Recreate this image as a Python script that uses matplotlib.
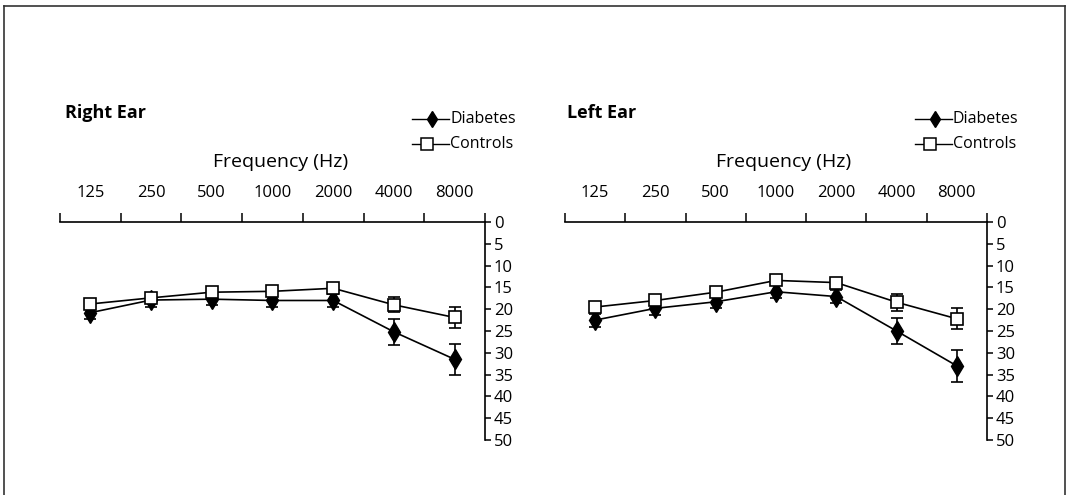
import matplotlib
matplotlib.use("Agg")
import matplotlib.pyplot as plt
from matplotlib.lines import Line2D
import numpy as np

plt.rcParams['font.family'] = ['Open Sans', 'DejaVu Sans']

frequencies = ["125", "250", "500", "1000", "2000", "4000", "8000"]
y_ticks = [0, 5, 10, 15, 20, 25, 30, 35, 40, 45, 50]

right_diabetes = [20.8, 17.9, 17.7, 18.0, 18.0, 25.2, 31.5]
right_diabetes_err = [1.5, 1.7, 1.4, 1.5, 1.5, 3.0, 3.6]
right_controls = [18.8, 17.4, 16.1, 15.9, 15.2, 19.0, 21.9]
right_controls_err = [1.0, 1.0, 1.0, 1.0, 1.0, 1.7, 2.3]

left_diabetes = [22.5, 19.8, 18.3, 16.0, 17.1, 25.0, 33.0]
left_diabetes_err = [1.5, 1.6, 1.5, 1.5, 1.5, 3.0, 3.7]
left_controls = [19.5, 18.0, 16.1, 13.4, 13.9, 18.4, 22.2]
left_controls_err = [1.0, 1.0, 1.0, 1.0, 1.0, 1.9, 2.4]

W, H = 1068, 495
fig = plt.figure(figsize=(W / 100, H / 100), dpi=100)

def fx(px):
    return px / W

def fy(py):
    return 1 - py / H

panels = [
    ("Right Ear", 60, 485, right_diabetes, right_diabetes_err, right_controls, right_controls_err, 65, 412),
    ("Left Ear", 565, 987, left_diabetes, left_diabetes_err, left_controls, left_controls_err, 567, 915),
]

y_top, y_bot = 222, 440

for (title, x0, x1, dia, dia_e, con, con_e, title_x, leg_x) in panels:
    ax = fig.add_axes([fx(x0), fy(y_bot), fx(x1 - x0), (y_bot - y_top) / H])
    xs = np.arange(len(frequencies)) + 0.5
    ax.errorbar(xs, dia, yerr=dia_e, color='black', marker='d', markersize=10,
                markerfacecolor='black', markeredgecolor='black', lw=1.2,
                elinewidth=1.2, capsize=4, capthick=1.2, zorder=3, clip_on=False)
    ax.errorbar(xs, con, yerr=con_e, color='black', marker='s', markersize=9,
                markerfacecolor='white', markeredgecolor='black', markeredgewidth=1.2,
                lw=1.2, elinewidth=1.2, capsize=4, capthick=1.2, zorder=4, clip_on=False)
    ax.set_xlim(0, len(frequencies))
    ax.set_ylim(50, 0)
    for s in ['left', 'bottom']:
        ax.spines[s].set_visible(False)
    ax.spines['top'].set_linewidth(1.2)
    ax.spines['right'].set_linewidth(1.2)
    ax.xaxis.set_ticks_position('top')
    ax.set_xticks(np.arange(len(frequencies) + 1))
    ax.set_xticklabels([])
    ax.set_xticks(xs, minor=True)
    ax.set_xticklabels(frequencies, minor=True, fontsize=12)
    ax.tick_params(axis='x', which='major', direction='out', length=6.5, width=1.1, top=True, bottom=False)
    ax.tick_params(axis='x', which='minor', length=0, pad=15, top=True, bottom=False,
                   labeltop=True, labelbottom=False)
    ax.yaxis.set_ticks_position('right')
    ax.set_yticks(y_ticks)
    ax.set_yticklabels([str(v) for v in y_ticks], fontsize=12)
    ax.tick_params(axis='y', which='major', direction='out', length=4, width=1.1, pad=2.5, right=True, left=False)
    ax.patch.set_alpha(0)

    fig.text(fx(title_x), fy(113), title, fontsize=13, fontweight='bold', va='center', ha='left')
    fig.text(fx((x0 + x1) / 2 + 8), fy(162), "Frequency (Hz)", fontsize=14, va='center', ha='center')

    # legend
    ly1, ly2 = 119, 144
    fig.add_artist(Line2D([fx(leg_x), fx(leg_x + 37)], [fy(ly1), fy(ly1)], color='black', lw=1.0,
                          transform=fig.transFigure))
    fig.add_artist(Line2D([fx(leg_x + 20)], [fy(ly1)], color='black', marker='d', markersize=8,
                          markerfacecolor='black', transform=fig.transFigure))
    fig.text(fx(leg_x + 38), fy(ly1), "Diabetes", fontsize=11.5, va='center', ha='left')
    fig.add_artist(Line2D([fx(leg_x), fx(leg_x + 37)], [fy(ly2), fy(ly2)], color='black', lw=1.0,
                          transform=fig.transFigure))
    fig.add_artist(Line2D([fx(leg_x + 15)], [fy(ly2)], color='black', marker='s', markersize=8,
                          markerfacecolor='white', markeredgewidth=1.1, transform=fig.transFigure))
    fig.text(fx(leg_x + 38), fy(ly2), "Controls", fontsize=11.5, va='center', ha='left')

# frame border (scanned figure box)
bc = '#333333'
fig.add_artist(Line2D([fx(4), fx(4)], [0, fy(6)], color=bc, lw=1.2, transform=fig.transFigure))
fig.add_artist(Line2D([fx(4), fx(1065)], [fy(6), fy(6)], color=bc, lw=1.2, transform=fig.transFigure))
fig.add_artist(Line2D([fx(1065), fx(1065)], [fy(6), 0], color=bc, lw=1.2, transform=fig.transFigure))

fig.savefig("out.png", dpi=100)
